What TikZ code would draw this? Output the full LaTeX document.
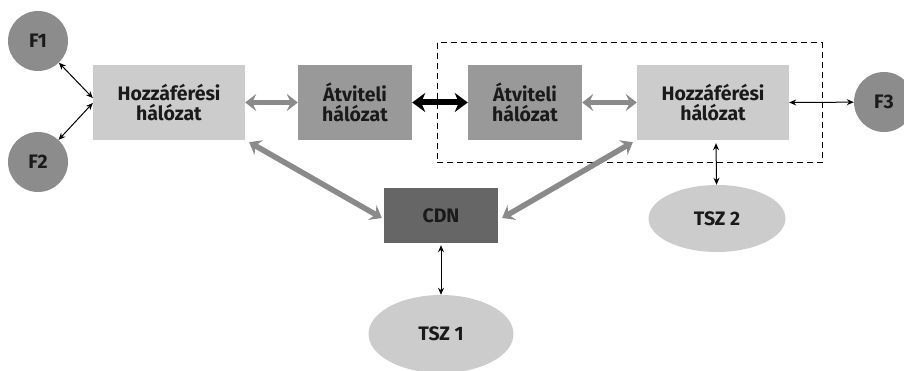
\documentclass[tikz,border=0pt]{standalone}
\usepackage{fontspec}
\setmainfont{Fira Sans}
\usetikzlibrary{arrows.meta,shapes.geometric}
\definecolor{accgray}{HTML}{CCCCCC}
\definecolor{trgray}{HTML}{999999}
\definecolor{cdngray}{HTML}{666666}
\definecolor{usergray}{HTML}{8C8C8C}
\definecolor{linkgray}{HTML}{8A8A8A}
\definecolor{txt}{HTML}{1A1A1A}
\tikzset{
  lbl/.style={font=\bfseries\fontsize{19.5}{19.5}\selectfont, text=txt},
  box/.style={rectangle, inner sep=0pt, minimum height=75pt, align=center, lbl},
  access/.style={box, fill=accgray, minimum width=152pt},
  transport/.style={box, fill=trgray, minimum width=114pt},
  cdnbox/.style={box, fill=cdngray, minimum width=114pt, minimum height=55pt},
  user/.style={circle, fill=usergray, minimum size=60pt, inner sep=0pt, lbl},
  server/.style={ellipse, fill=accgray, inner sep=0pt, lbl},
  thinlink/.style={{Stealth[length=7pt,width=6pt]}-{Stealth[length=7pt,width=6pt]}, line width=1pt, black},
  greylink/.style={{Stealth[length=11pt,width=17pt,inset=4pt]}-{Stealth[length=11pt,width=17pt,inset=4pt]}, line width=5.5pt, linkgray},
  corelink/.style={{Stealth[length=13pt,width=19pt,inset=4pt]}-{Stealth[length=13pt,width=19pt,inset=4pt]}, line width=6pt, black},
}
\begin{document}
\begin{tikzpicture}[x=1pt,y=-1pt]
  \useasboundingbox (0,0) rectangle (904,371);
  % operator domain frame
  \draw[dashed, line width=1pt, dash pattern=on 6pt off 4pt] (437,43) rectangle (822,163);
  % network blocks
  \node[access] (lh) at (169,102.5) {Hozzáférési\\hálózat};
  \node[transport] (lt) at (355,102.5) {Átviteli\\hálózat};
  \node[transport] (rt) at (525,102.5) {Átviteli\\hálózat};
  \node[access] (rh) at (713,102.5) {Hozzáférési\\hálózat};
  \node[cdnbox] (cdn) at (441,215.5) {CDN};
  % users and servers
  \node[user] (f1) at (38,41) {F1};
  \node[user] (f2) at (38,162) {F2};
  \node[user] (f3) at (884,102) {F3};
  \node[server, minimum width=137pt, minimum height=67pt] (tsz2) at (717,218.5) {TSZ 2};
  \node[server, minimum width=145pt, minimum height=78pt] (tsz1) at (441,334) {TSZ 1};
  % links
  \draw[thinlink] (f1) -- ([yshift=4.5pt]lh.west);
  \draw[thinlink] (f2) -- ([yshift=-0.5pt]lh.west);
  \draw[thinlink] (rh.east) -- (f3);
  \draw[thinlink] ([xshift=3pt,yshift=-3pt]rh.south) -- (tsz2);
  \draw[thinlink] ([yshift=-2pt]cdn.south) -- (tsz1);
  \draw[greylink] (lh.east) -- (lt.west);
  \draw[greylink] (rt.east) -- (rh.west);
  \draw[corelink] (lt.east) -- (rt.west);
  \draw[greylink] ([xshift=4pt,yshift=-2pt]lh.south east) -- ([xshift=-2pt,yshift=-2.5pt]cdn.west);
  \draw[greylink] ([xshift=-4pt,yshift=-2pt]rh.south west) -- ([xshift=4pt,yshift=-2.5pt]cdn.east);
\end{tikzpicture}
\end{document}
